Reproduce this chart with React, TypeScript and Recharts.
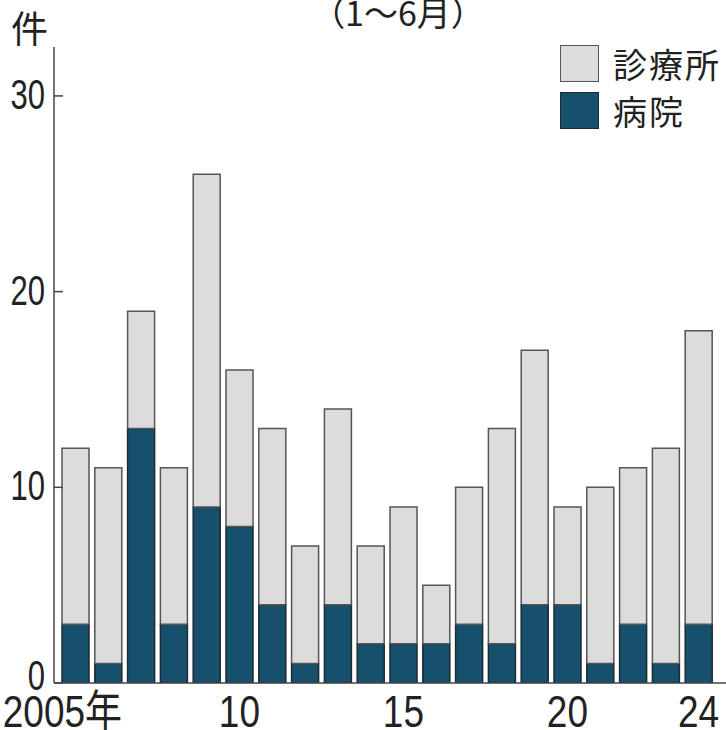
import React from 'react';
import { BarChart, Bar, XAxis, YAxis, Legend, Customized } from 'recharts';

// 2005–2024, January to June counts
const years = [
  2005, 2006, 2007, 2008, 2009, 2010, 2011, 2012, 2013, 2014,
  2015, 2016, 2017, 2018, 2019, 2020, 2021, 2022, 2023, 2024,
];
const hospital = [3, 1, 13, 3, 9, 8, 4, 1, 4, 2, 2, 2, 3, 2, 4, 4, 1, 3, 1, 3];
const clinic = [9, 10, 6, 8, 17, 8, 9, 6, 10, 5, 7, 3, 7, 11, 13, 5, 9, 8, 11, 15];

const yTicks = [0, 10, 20, 30];
const xTickLabels: Record<number, string> = {
  2005: '2005年',
  2010: '10',
  2015: '15',
  2020: '20',
  2024: '24',
};

const seriesNames = { clinic: '診療所', hospital: '病院' };
const colors = {
  clinic: '#dcdcdc',
  clinicStroke: '#555555',
  hospital: '#16506d',
  hospitalStroke: '#1d2a30',
  axis: '#444444',
  text: '#222222',
};

const data = years.map((year, i) => ({
  year,
  hospital: hospital[i],
  clinic: clinic[i],
}));

// Numbers use a horizontally squeezed sans face to get a condensed look
const NUM_FONT = "'Liberation Sans', 'Noto Sans CJK JP', sans-serif";
const CJK_FONT = "'Noto Sans CJK JP', 'Noto Sans', sans-serif";

const YTick = (props: any) => {
  const { x, y, payload } = props;
  const dy = payload.value === 0 ? 7 : 13;
  return (
    <g>
      <line x1={x} x2={x + 9} y1={y} y2={y} stroke={colors.axis} strokeWidth={1.5} />
      <text
        transform={`translate(${x - 9},${y + dy}) scale(0.74,1)`}
        x={0}
        y={0}
        textAnchor="end"
        fontSize={42}
        fontFamily={NUM_FONT}
        fill={colors.text}
      >
        {payload.value}
      </text>
    </g>
  );
};

const XTick = (props: any) => {
  const { x, y, payload } = props;
  const label = xTickLabels[payload.value];
  if (!label) return null;
  const dx = payload.value === 2005 ? -13 : 0;
  return (
    <text
      transform={`translate(${x + dx},${y + 44}) scale(0.84,1)`}
      x={0}
      y={0}
      textAnchor="middle"
      fontSize={44}
      fontFamily={NUM_FONT}
      fill={colors.text}
    >
      {label}
    </text>
  );
};

const LegendContent = () => {
  const items = [
    { key: 'clinic', name: seriesNames.clinic, fill: colors.clinic, stroke: colors.clinicStroke },
    { key: 'hospital', name: seriesNames.hospital, fill: colors.hospital, stroke: colors.hospitalStroke },
  ];
  return (
    <div>
      {items.map((it) => (
        <div
          key={it.key}
          style={{ display: 'flex', alignItems: 'center', height: 47 }}
        >
          <div
            style={{
              width: 37,
              height: 35,
              background: it.fill,
              border: `1.5px solid ${it.stroke}`,
              marginRight: 14,
            }}
          />
          <span
            style={{
              fontFamily: CJK_FONT,
              fontSize: 34,
              letterSpacing: 2,
              color: colors.text,
              lineHeight: '40px',
            }}
          >
            {it.name}
          </span>
        </div>
      ))}
    </div>
  );
};

const Headings = () => (
  <g>
    <text x={398} y={26} textAnchor="middle" fontSize={34} fontFamily={CJK_FONT} fill={colors.text}>
      （1〜6月）
    </text>
    <text x={11} y={43} fontSize={37} fontFamily={CJK_FONT} fill={colors.text}>
      件
    </text>
  </g>
);

export default function App() {
  return (
    <div style={{ position: 'absolute', left: 0, top: 0, width: 726, height: 730, background: '#ffffff' }}>
      <BarChart
        width={726}
        height={730}
        data={data}
        margin={{ top: 47, right: 0, bottom: 0, left: 0 }}
      >
        <XAxis
          dataKey="year"
          type="category"
          height={47}
          padding={{ left: 5, right: 11 }}
          interval={0}
          tickLine={false}
          tickSize={0}
          tickMargin={0}
          axisLine={{ stroke: colors.axis, strokeWidth: 1.5 }}
          tick={<XTick />}
        />
        <YAxis
          width={54}
          domain={[0, 32.5]}
          ticks={yTicks}
          allowDataOverflow
          tickLine={false}
          tickSize={0}
          tickMargin={0}
          axisLine={{ stroke: colors.axis, strokeWidth: 1.5 }}
          tick={<YTick />}
        />
        <Legend
          layout="horizontal"
          verticalAlign="middle"
          align="center"
          content={<LegendContent />}
          wrapperStyle={{ left: 560, top: 40, width: 170, height: 100 }}
        />
        <Bar
          dataKey="hospital"
          name={seriesNames.hospital}
          stackId="total"
          barSize={27}
          fill={colors.hospital}
          stroke={colors.hospitalStroke}
          strokeWidth={1.5}
          isAnimationActive={false}
        />
        <Bar
          dataKey="clinic"
          name={seriesNames.clinic}
          stackId="total"
          barSize={27}
          fill={colors.clinic}
          stroke={colors.clinicStroke}
          strokeWidth={1.5}
          isAnimationActive={false}
        />
        <Customized component={<Headings />} />
      </BarChart>
    </div>
  );
}
